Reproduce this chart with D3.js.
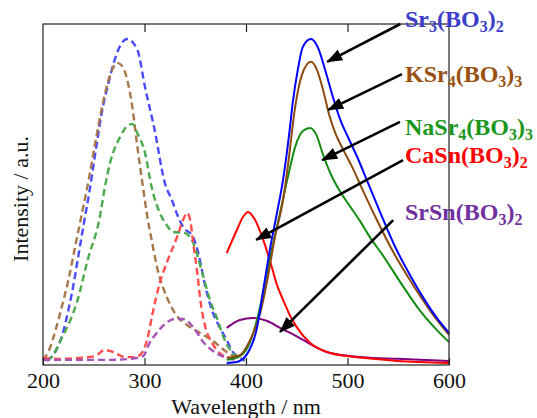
<!DOCTYPE html>
<head>
<meta charset="utf-8">
<title>Excitation and emission spectra</title>
<script src="https://d3js.org/d3.v7.min.js"></script>
<style>
body { margin: 0; background: #fff; }
</style>
</head>
<body>
<script>
// excitation spectra (dashed), [wavelength nm, intensity a.u.]
var exSr3 = [[204,1.2],[212,3.8],[219,8.8],[225,16.1],[230,23.5],[235,32.3],[240,41.1],[246,51.3],[252,63.0],[258,74.2],[264,82.1],[270,88.9],[276,93.6],[283,95.6],[293,92.4],[300.5,81.5],[310,68.9],[320,53.4],[327,48.4],[332,44.3],[338,40.5],[348,37.5],[353,32.8],[360,22.9],[366.5,16.1],[374,11.1],[381,7.3],[387,3.8],[394,2.1],[399,1.2]];
var exKSr4 = [[200,1.5],[206,4.4],[213,10.9],[219,17.6],[225,24.9],[231,33.7],[237,42.5],[245,54.3],[252,66.0],[258,75.4],[264,83.0],[269,87.1],[273,88.6],[278,87.7],[283,83.6],[288,75.7],[293,63.9],[298.5,52.2],[302.5,44.0],[307,36.7],[313,27.9],[322,19.9],[330,15.2],[342,11.7],[355,9.4],[367.5,7.0],[381,3.8],[391,2.1],[396,1.5]];
var exNaSr4 = [[204,1.2],[209,2.6],[219,8.2],[227,13.2],[233.5,18.5],[244,30.8],[256,43.4],[261,52.2],[266,59.2],[276,66.9],[283,70.1],[288,70.7],[293,68.0],[300.5,62.2],[307,52.2],[317,43.4],[322,41.0],[328,39.0],[340,38.7],[348,35.8],[357,27.0],[364.5,19.1],[372,13.2],[379,7.3],[387,3.5],[399,1.5]];
var exCaSn = [[200,2.1],[217,1.8],[236,2.1],[251,2.6],[261,4.4],[269,3.8],[281,2.3],[291,2.3],[298,3.8],[302.5,7.3],[308,15.2],[315,24.0],[323,30.8],[332,37.5],[338,42.5],[342,44.6],[345,42.5],[348,35.8],[352,27.0],[355,19.1],[360,11.1],[366.5,6.5],[374,3.5],[384,2.1],[391,1.5]];
var exSrSn = [[200,1.5],[236,1.5],[266,1.5],[286,1.8],[298.5,2.6],[305,6.5],[312,9.4],[320,12.0],[330,13.5],[338,13.5],[348,11.1],[358,6.7],[367.5,4.1],[379,2.3],[392,1.5]];

// emission spectra (solid)
var emSr3 = [[381,0.6],[391,0.9],[401,3.2],[411,11.1],[417,22.0],[424,34.6],[430.5,44.6],[436.5,54.3],[443,68.9],[446,76.8],[451,86.5],[456,93.3],[464,95.6],[471,93.0],[478,86.5],[485,79.2],[493,71.8],[501,66.5],[510,60.7],[521,52.8],[532,44.9],[547,34.6],[561.5,26.4],[576,19.1],[588,13.8],[600,9.4]];
var emKSr4 = [[381,2.1],[394,2.9],[404,7.3],[414,15.2],[421,24.9],[428,36.7],[436.5,48.4],[442,60.1],[448,74.8],[455,85.0],[464,88.9],[470,86.5],[476,80.6],[482,73.3],[488,68.0],[496,63.0],[505,57.8],[515,51.3],[528,43.1],[544,33.7],[561.5,24.9],[581,16.1],[600,8.8]];
var emNaSr4 = [[381,1.5],[394,2.6],[404,6.7],[412,14.7],[419,24.3],[426,34.6],[433.5,44.6],[441,54.8],[449,64.5],[456,68.6],[463,69.5],[469,67.7],[476,61.6],[483,56.3],[493,50.7],[503,46.3],[513,41.9],[522,37.5],[534,32.5],[552,24.3],[571,16.1],[586,10.9],[600,6.7]];
var emCaSn = [[381,32.8],[391,39.6],[397,43.4],[402,44.9],[409,42.5],[416,37.5],[424,30.2],[430.5,23.5],[436.5,19.1],[443,14.7],[450,11.1],[463,6.5],[483,3.5],[515,2.1],[549,1.2],[600,0.6]];
var emSrSn = [[381,10.9],[394,13.2],[407,13.8],[421,12.9],[433.5,10.9],[453,7.9],[460,6.7],[483,3.5],[515,2.3],[549,1.8],[600,1.2]];

var xTicks = [200, 300, 400, 500, 600];

// compound labels ("_n" = subscript) and arrows [from, to] in data units
var names = ["Sr_3(BO_3)_2", "KSr_4(BO_3)_3", "NaSr_4(BO_3)_3", "CaSn(BO_3)_2", "SrSn(BO_3)_2"];
var arrows = [
  [[552,100],[480,88.9]],
  [[553.7,85.3],[481,74.8]],
  [[551.7,71.3],[475,60.1]],
  [[554.7,60.1],[410,36.7]],
  [[545,42.5],[433.5,9.7]]
];

var serif = "'Liberation Serif', 'DejaVu Serif', serif";
var width = 537, height = 418;
var x = d3.scaleLinear().domain([200, 600]).range([43, 449]);
var y = d3.scaleLinear().domain([0, 100]).range([365, 24]);

var svg = d3.select("body").append("svg")
  .attr("width", width)
  .attr("height", height)
  .attr("font-family", serif);

var line = d3.line()
  .x(function(d) { return x(d[0]); })
  .y(function(d) { return y(d[1]); })
  .curve(d3.curveMonotoneX);

var series = [
  {data: exSr3,  color: "#4a4aff", dash: true},
  {data: exKSr4, color: "#a8774a", dash: true},
  {data: exNaSr4,color: "#4caa4c", dash: true},
  {data: exCaSn, color: "#ff4d4d", dash: true},
  {data: exSrSn, color: "#a452b4", dash: true},
  {data: emSrSn, color: "#800080", dash: false},
  {data: emCaSn, color: "#ff0000", dash: false},
  {data: emNaSr4,color: "#148c14", dash: false},
  {data: emKSr4, color: "#8c4a0e", dash: false},
  {data: emSr3,  color: "#0000ff", dash: false}
];

svg.selectAll("path.spec")
  .data(series).enter().append("path")
  .attr("class", "spec")
  .attr("d", function(d) { return line(d.data); })
  .attr("fill", "none")
  .attr("stroke", function(d) { return d.color; })
  .attr("stroke-width", function(d) { return d.dash ? 2.4 : 2; })
  .attr("stroke-dasharray", function(d) { return d.dash ? "7,4" : null; });

// frame with inward ticks
var frame = "#222";
svg.append("rect")
  .attr("x", x(200)).attr("y", y(100))
  .attr("width", x(600) - x(200)).attr("height", y(0) - y(100))
  .attr("fill", "none").attr("stroke", frame).attr("stroke-width", 1.2);

var axisB = d3.axisBottom(x).tickValues(xTicks).tickSize(-7).tickPadding(7).tickFormat(d3.format("d"));
var gx = svg.append("g").attr("transform", "translate(0," + y(0) + ")").call(axisB);
gx.attr("font-family", serif).attr("font-size", 22);
gx.select(".domain").remove();
gx.selectAll(".tick line").attr("stroke", frame).attr("stroke-width", 1.2);
gx.selectAll(".tick text").attr("fill", "#111");

var axisT = d3.axisTop(x).tickValues(xTicks.slice(1, 4)).tickSize(-8).tickFormat("");
var gt = svg.append("g").attr("transform", "translate(0," + y(100) + ")").call(axisT);
gt.select(".domain").remove();
gt.selectAll(".tick line").attr("stroke", frame).attr("stroke-width", 1.2);

// axis titles
svg.append("text")
  .attr("x", (x(200) + x(600)) / 2).attr("y", 414)
  .attr("text-anchor", "middle")
  .attr("font-size", 22).attr("fill", "#111")
  .text("Wavelength / nm");

svg.append("text")
  .attr("transform", "translate(28,199) rotate(-90)")
  .attr("text-anchor", "middle")
  .attr("font-size", 22).attr("fill", "#111")
  .text("Intensity / a.u.");

// arrows
svg.append("defs").append("marker")
  .attr("id", "head")
  .attr("viewBox", "0 0 16 12")
  .attr("refX", 15).attr("refY", 6)
  .attr("markerWidth", 16).attr("markerHeight", 12)
  .attr("markerUnits", "userSpaceOnUse")
  .attr("orient", "auto")
  .append("path").attr("d", "M0,0L16,6L0,12Z").attr("fill", "#000");

svg.selectAll("line.arrow")
  .data(arrows).enter().append("line")
  .attr("class", "arrow")
  .attr("x1", function(d) { return x(d[0][0]); })
  .attr("y1", function(d) { return y(d[0][1]); })
  .attr("x2", function(d) { return x(d[1][0]); })
  .attr("y2", function(d) { return y(d[1][1]); })
  .attr("stroke", "#000").attr("stroke-width", 2.6)
  .attr("marker-end", "url(#head)");

// compound labels
var labelColors = ["#3c3cc8", "#99500f", "#1a961a", "#ff0000", "#7030a0"];
var labelY = [27, 82, 135, 163, 220];

names.forEach(function(name, i) {
  var t = svg.append("text")
    .attr("x", 405).attr("y", labelY[i])
    .attr("fill", labelColors[i])
    .attr("font-size", 24).attr("font-weight", "bold");
  var parts = name.split(/_(\d)/);
  var sub = false;
  parts.forEach(function(p, k) {
    if (p === "") return;
    var isSub = k % 2 === 1;
    var ts = t.append("tspan").text(p);
    if (isSub) {
      ts.attr("font-size", 16);
      if (!sub) { ts.attr("dy", 5); sub = true; }
    } else if (sub) { ts.attr("dy", -5); sub = false; }
  });
});
</script>
</body>
